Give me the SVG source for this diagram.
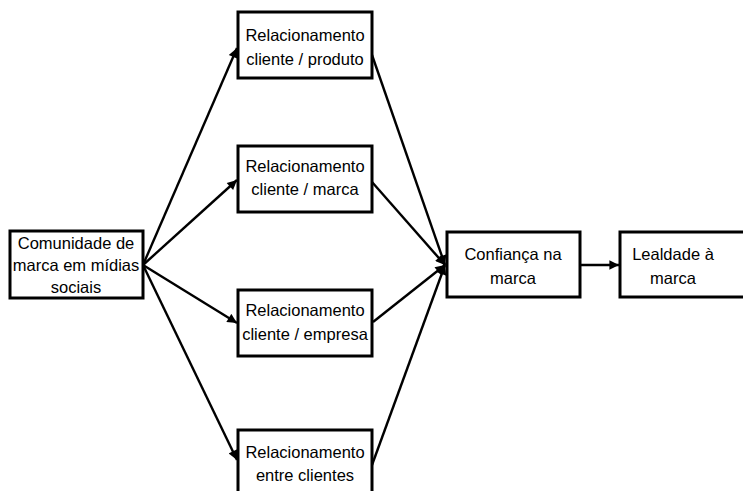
<svg xmlns="http://www.w3.org/2000/svg" width="743" height="491" viewBox="0 0 743 491">
<defs>
<style>
.box{fill:#fff;stroke:#000;stroke-width:3}
.t{font-family:"Liberation Sans",Arial,sans-serif;font-size:16.5px;fill:#000;text-anchor:middle}
.c{stroke:#000;stroke-width:2.4;fill:none;marker-end:url(#ah)}
</style>
<marker id="ah" viewBox="0 0 10 10" refX="10" refY="5" markerWidth="4.6" markerHeight="4" markerUnits="strokeWidth" orient="auto">
<path d="M0,0 L10,5 L0,10 z" fill="#000"/>
</marker>
</defs>
<rect width="743" height="491" fill="#fff"/>
<g id="connectors">
<line class="c" x1="143" y1="265" x2="237" y2="48"/>
<line class="c" x1="143" y1="265" x2="237" y2="180"/>
<line class="c" x1="143" y1="265" x2="237" y2="323"/>
<line class="c" x1="143" y1="265" x2="237" y2="460"/>
<line class="c" x1="372" y1="55" x2="445" y2="265"/>
<line class="c" x1="372" y1="182" x2="445" y2="265"/>
<line class="c" x1="373" y1="322" x2="445" y2="265"/>
<line class="c" x1="372" y1="465" x2="445" y2="265"/>
<line class="c" x1="580" y1="265" x2="619" y2="265"/>
</g>
<g id="comunidade">
<rect class="box" x="10" y="231" width="133" height="67"/>
<text class="t" x="76" y="249">Comunidade de</text>
<text class="t" x="76" y="271">marca em mídias</text>
<text class="t" x="76" y="293">sociais</text>
</g>
<g id="rel-produto">
<rect class="box" x="238" y="12" width="134" height="66"/>
<text class="t" x="305" y="41">Relacionamento</text>
<text class="t" x="305" y="65">cliente / produto</text>
</g>
<g id="rel-marca">
<rect class="box" x="238" y="146" width="134" height="66"/>
<text class="t" x="305" y="172">Relacionamento</text>
<text class="t" x="305" y="195">cliente / marca</text>
</g>
<g id="rel-empresa">
<rect class="box" x="238" y="290" width="134" height="66"/>
<text class="t" x="305" y="316">Relacionamento</text>
<text class="t" x="305" y="340">cliente / empresa</text>
</g>
<g id="rel-clientes">
<rect class="box" x="238" y="430" width="134" height="70"/>
<text class="t" x="305" y="458">Relacionamento</text>
<text class="t" x="305" y="481">entre clientes</text>
</g>
<g id="confianca">
<rect class="box" x="447" y="232" width="133" height="65"/>
<text class="t" x="513" y="260">Confiança na</text>
<text class="t" x="513" y="284">marca</text>
</g>
<g id="lealdade">
<rect class="box" x="620" y="232" width="140" height="65"/>
<text class="t" x="673" y="260">Lealdade à</text>
<text class="t" x="673" y="284">marca</text>
</g>
</svg>
